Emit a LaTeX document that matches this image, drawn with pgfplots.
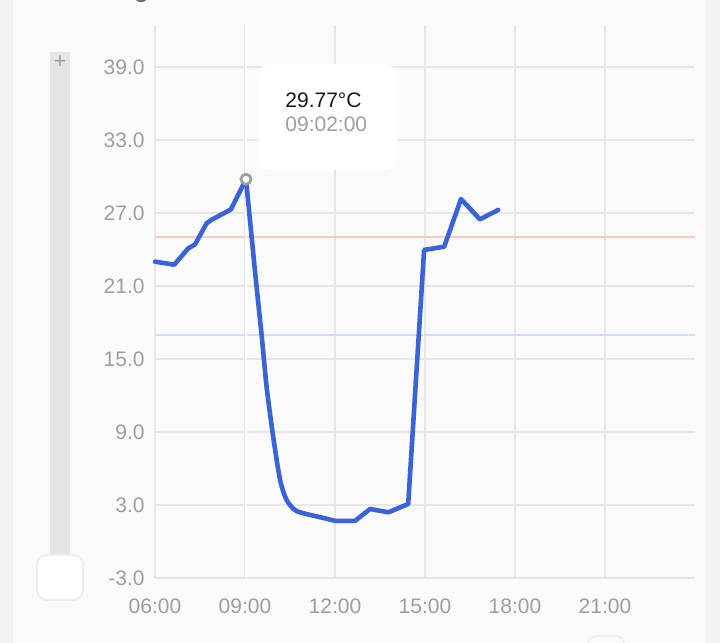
\documentclass[border=0pt]{standalone}
\usepackage{pgfplots}
\pgfplotsset{compat=1.18}
\usepackage{fontspec}
\setmainfont{Liberation Sans}
\definecolor{outerbg}{HTML}{F3F3F3}
\definecolor{cardbg}{HTML}{FAFAFA}
\definecolor{gridgray}{HTML}{E6E6E6}
\definecolor{labelgray}{HTML}{9E9E9E}
\definecolor{lineblue}{HTML}{3A63D8}
\definecolor{redline}{HTML}{F5C9BE}
\definecolor{blueline}{HTML}{CFDFF7}
\definecolor{slidergray}{HTML}{E5E5E5}
\definecolor{handleedge}{HTML}{EEEEEE}
\begin{document}
\begin{tikzpicture}
\useasboundingbox (0,0) rectangle (360pt,321.5pt);
\clip (0,0) rectangle (360pt,321.5pt);
\fill[outerbg] (0,0) rectangle (360pt,321.5pt);
\fill[cardbg] (6.5pt,-5pt) rectangle (352.5pt,330pt);
% top partial glyph and bottom partial element
\draw[labelgray!70!black, line width=1.2pt] (70.5pt,324pt) circle (3pt);
\draw[handleedge, line width=0.8pt, rounded corners=4pt] (294pt,-10pt) rectangle (312pt,3.5pt);
% slider
\fill[slidergray] (25pt,44pt) rectangle (35pt,295.5pt);
\node[text=labelgray, font=\fontsize{11}{11}\selectfont, inner sep=0pt] at (30pt,290.5pt) {+};
\filldraw[fill=white, draw=handleedge, line width=1pt, rounded corners=5pt] (18.5pt,21.5pt) rectangle (41.5pt,44pt);
\begin{axis}[
  scale only axis, width=270pt, height=276.5pt,
  at={(77.5pt,32.5pt)}, anchor=south west,
  xmin=6, xmax=24, ymin=-3, ymax=42.45,
  axis line style={draw=none}, tick style={draw=none},
  grid=major, grid style={color=gridgray, line width=1pt},
  xtick={6,9,12,15,18,21},
  xticklabels={06:00,09:00,12:00,15:00,18:00,21:00},
  ytick={-3,3,9,15,21,27,33,39},
  yticklabels={-3.0,3.0,9.0,15.0,21.0,27.0,33.0,39.0},
  ticklabel style={font=\fontsize{10.5}{12}\selectfont, text=labelgray},
  yticklabel style={anchor=east, inner sep=0pt, xshift=-5pt},
  xticklabel style={anchor=north, inner sep=0pt, yshift=-10pt},
  clip=false,
]
\addplot[redline, line width=0.9pt] coordinates {(6,25) (24,25)};
\addplot[blueline, line width=0.9pt] coordinates {(6,17) (24,17)};
\addplot[white, line width=1pt] coordinates {(9.033,-3) (9.033,42.45)};
\addplot[lineblue, line width=2.3pt, line join=round, line cap=round] coordinates {
(6.00,23.0) (6.64,22.75) (7.11,24.1) (7.33,24.4) (7.72,26.15) (7.89,26.45)
(8.39,27.1) (8.53,27.3) (9.033,29.77)};
\addplot[lineblue, line width=2.3pt, line join=round, line cap=round, smooth, tension=0.4] coordinates {
(9.033,29.77) (9.33,22.3) (9.56,16.8) (9.72,12.7)
(9.94,8.6) (10.17,5.05) (10.39,3.4) (10.72,2.5) (11.5,2.0)};
\addplot[lineblue, line width=2.3pt, line join=round, line cap=round] coordinates {
(11.5,2.0) (12.0,1.7) (12.67,1.7) (13.17,2.67) (13.78,2.4) (14.44,3.08) (14.97,23.96)
(15.64,24.23) (16.2,28.15) (16.83,26.48) (17.44,27.25)
};
\addplot[only marks, mark=*, mark size=2.5pt, mark options={fill=white, draw=labelgray, line width=1.4pt}] coordinates {(9.033,29.77)};
\end{axis}
% tooltip
\fill[white, rounded corners=6pt] (129pt,236.5pt) rectangle (198.5pt,289.5pt);
\node[anchor=west, inner sep=0pt, font=\fontsize{10.5}{12}\selectfont, text=black!90] at (142.5pt,271.5pt) {29.77°C};
\node[anchor=west, inner sep=0pt, font=\fontsize{10.5}{12}\selectfont, text=labelgray] at (142.5pt,259.5pt) {09:02:00};
\end{tikzpicture}
\end{document}
